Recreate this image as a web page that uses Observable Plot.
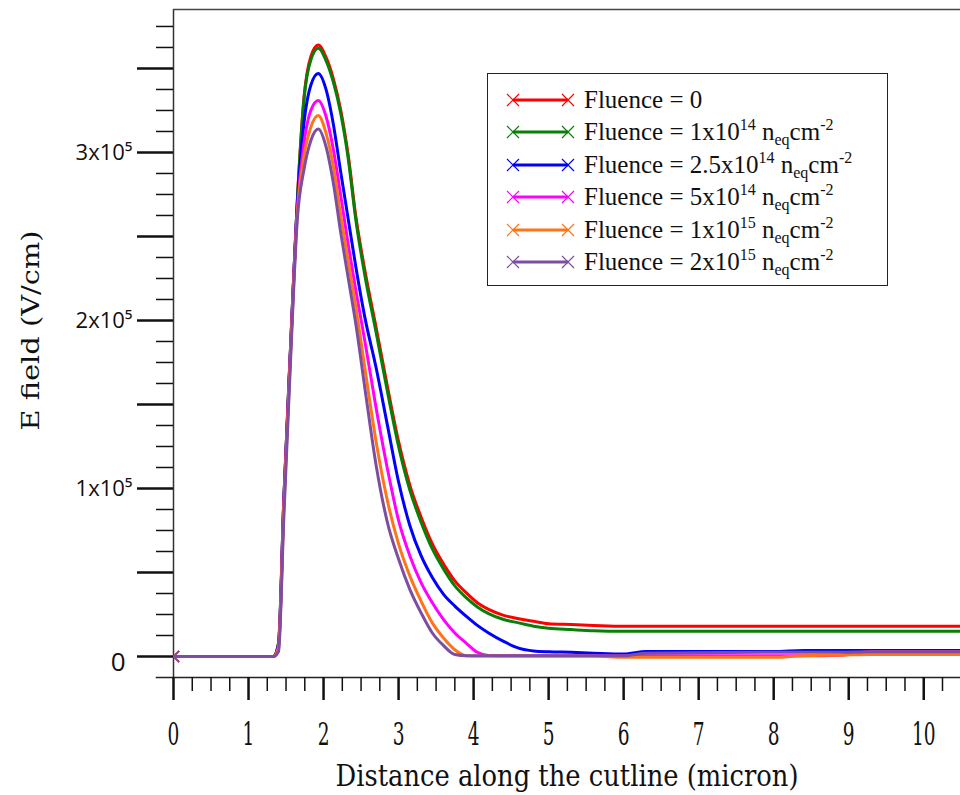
<!DOCTYPE html>
<html>
<head>
<meta charset="utf-8">
<script src="https://cdn.jsdelivr.net/npm/d3@7"></script>
<script src="https://cdn.jsdelivr.net/npm/@observablehq/plot@0.6"></script>
<style>
  body { margin: 0; background: #fff; }
  #wrap { position: relative; width: 960px; height: 795px; overflow: hidden; }
  #legend {
    position: absolute; left: 487px; top: 73px; width: 401px; height: 213px;
    border: 1.5px solid #222; background: #fff; box-sizing: border-box;
    font-family: "Liberation Serif", "Times New Roman", serif; font-size: 25px; color: #111;
  }
  .row { position: absolute; left: 0; height: 30px; white-space: nowrap; }
  .row svg { position: absolute; left: 18px; top: 0; }
  .row span.lbl { position: absolute; left: 96px; top: 0; line-height: 30px; }
  .row sup { font-size: 16px; line-height: 0; vertical-align: 0; position: relative; top: -10px; }
  .row sub { font-size: 16px; line-height: 0; vertical-align: 0; position: relative; top: 5px; }
</style>
</head>
<body>
<div id="wrap"><div id="chart"></div><div id="legend"></div></div>
<script>
// ---------- data (E field in units of 1e5 V/cm) ----------
const xGrid = [0, 1.33, 1.40, 1.47, 1.56, 1.65, 1.74, 1.83, 1.93, 2.03, 2.13, 2.23, 2.33, 2.43, 2.55, 2.7, 2.85, 3.0, 3.15, 3.3, 3.45, 3.6, 3.75, 3.9, 4.05, 4.2, 4.4, 4.6, 4.8, 5.0, 5.3, 5.6, 6.0, 6.3, 7.0, 8.0, 8.4, 8.9, 9.3, 10.0, 10.5];

const eFluence0 = [0, 0, 0.08, 0.93, 1.84, 2.71, 3.33, 3.57, 3.64, 3.57, 3.44, 3.25, 2.98, 2.62, 2.30, 1.96, 1.61, 1.28, 1.02, 0.83, 0.67, 0.55, 0.45, 0.38, 0.32, 0.28, 0.245, 0.225, 0.21, 0.195, 0.19, 0.185, 0.18, 0.18, 0.18, 0.18, 0.18, 0.18, 0.18, 0.18, 0.18];
const eFluence1e14 = [0, 0, 0.08, 0.93, 1.84, 2.71, 3.32, 3.55, 3.62, 3.55, 3.42, 3.23, 2.96, 2.60, 2.27, 1.93, 1.58, 1.25, 0.99, 0.80, 0.64, 0.52, 0.42, 0.35, 0.295, 0.255, 0.22, 0.20, 0.18, 0.168, 0.16, 0.153, 0.15, 0.15, 0.15, 0.15, 0.15, 0.15, 0.15, 0.15, 0.15];
const eFluence25e14 = [0, 0, 0.07, 0.92, 1.83, 2.69, 3.18, 3.40, 3.47, 3.38, 3.17, 2.88, 2.60, 2.32, 2.02, 1.72, 1.38, 1.04, 0.78, 0.60, 0.47, 0.37, 0.30, 0.24, 0.185, 0.14, 0.09, 0.05, 0.033, 0.028, 0.025, 0.02, 0.015, 0.03, 0.03, 0.03, 0.036, 0.036, 0.035, 0.035, 0.035];
const eFluence5e14 = [0, 0, 0.06, 0.90, 1.82, 2.66, 3.06, 3.25, 3.31, 3.22, 3.02, 2.74, 2.45, 2.18, 1.88, 1.48, 1.12, 0.81, 0.60, 0.44, 0.32, 0.22, 0.14, 0.08, 0.025, 0.006, 0.005, 0.005, 0.005, 0.005, 0.005, 0.005, 0.005, 0.005, 0.005, 0.005, 0.005, 0.008, 0.03, 0.03, 0.03];
const eFluence1e15 = [0, 0, 0.05, 0.88, 1.80, 2.63, 2.98, 3.15, 3.22, 3.12, 2.92, 2.62, 2.35, 2.08, 1.72, 1.28, 0.93, 0.67, 0.48, 0.33, 0.20, 0.11, 0.04, 0.005, 0.003, 0.003, 0.003, 0.003, 0.003, 0.003, 0.003, 0.003, -0.005, -0.005, -0.005, -0.005, 0.005, 0.008, 0.012, 0.012, 0.012];
const eFluence2e15 = [0, 0, 0.03, 0.82, 1.76, 2.60, 2.90, 3.07, 3.14, 3.04, 2.82, 2.52, 2.25, 1.98, 1.60, 1.14, 0.80, 0.58, 0.40, 0.26, 0.14, 0.065, 0.012, 0.005, 0.005, 0.005, 0.005, 0.005, 0.005, 0.005, 0.005, 0.005, 0.005, 0.02, 0.022, 0.025, 0.025, 0.025, 0.028, 0.028, 0.028];

const seriesValues = [eFluence0, eFluence1e14, eFluence25e14, eFluence5e14, eFluence1e15, eFluence2e15];
const seriesColors = ["#ff0000", "#088008", "#0000ff", "#ff00ff", "#ff7418", "#7d4ea0"];
const fluenceMantissa = ["0", "1", "2.5", "5", "1", "2"];
const fluenceExponent = [null, "14", "14", "14", "15", "15"];

const xTickValues = [0, 1, 2, 3, 4, 5, 6, 7, 8, 9, 10];
const yLabelTicks = [1, 2, 3];
const yMajorTicks = [0, 0.5, 1, 1.5, 2, 2.5, 3, 3.5];
const xTitle = "Distance along the cutline (micron)";
const yTitle = "E field (V/cm)";

// ---------- chart ----------
const xDomain = [0, 10.49];
const yDomain = [-0.125, 3.851];
const xMinor = d3.range(0, 10.5, 0.25).filter(v => v % 1 !== 0);
const yMinor = d3.range(0.125, 3.8, 0.125).filter(v => Math.abs(v * 2 - Math.round(v * 2)) > 1e-9);

const lineMarks = seriesValues.map((vals, s) => {
  const rows = xGrid.map((x, i) => ({x, e: vals[i]}));
  return [
    Plot.line(rows, {x: "x", y: "e", stroke: seriesColors[s], strokeWidth: 3, curve: "monotone-x", clip: true}),
    Plot.dot(rows.slice(0, 1), {x: "x", y: "e", symbol: "times", r: 5, stroke: seriesColors[s], strokeWidth: 1.6, clip: true})
  ];
});

const chart = Plot.plot({
  width: 960, height: 795,
  marginLeft: 173, marginRight: 0, marginTop: 9, marginBottom: 118,
  x: {domain: xDomain},
  y: {domain: yDomain},
  style: {background: "transparent", color: "#111"},
  marks: [
    Plot.ruleX([xDomain[0]], {stroke: "#333", strokeWidth: 1.5}),
    Plot.ruleY([yDomain[1]], {stroke: "#444", strokeWidth: 1.5}),
    Plot.ruleY([yDomain[0]], {x1: -0.23, x2: xDomain[1], stroke: "#222", strokeWidth: 1.5}),
    Plot.axisY({ticks: yMajorTicks, tickSize: 36, strokeWidth: 2.5, tickFormat: () => "", label: null}),
    Plot.axisY({ticks: yMinor, tickSize: 17, strokeWidth: 1.5, tickFormat: () => "", label: null}),
    Plot.axisY({ticks: yLabelTicks, tickSize: 0, tickPadding: 41, tickFormat: d => `${d}x10⁵`, fontSize: 22, fontFamily: "Open Sans", label: null}),
    Plot.axisY({ticks: [0], tickSize: 0, tickPadding: 48, tickFormat: d => `${d}`, fontSize: 26, dy: 6, fontFamily: "Open Sans", label: null}),
    Plot.axisX({ticks: xTickValues, tickSize: 23, strokeWidth: 2.5, tickFormat: () => "", label: null}),
    Plot.axisX({ticks: xMinor, tickSize: 14, strokeWidth: 1.5, tickFormat: () => "", label: null}),
    Plot.axisX({ticks: xTickValues, tickSize: 0, tickPadding: 45, fontSize: 31, fontFamily: "DejaVu Serif", label: null}),
    Plot.text([xTitle], {frameAnchor: "bottom", dy: 108, fontSize: 30, fontFamily: "DejaVu Serif", fill: "#111"}),
    Plot.text([yTitle], {frameAnchor: "left", textAnchor: "middle", rotate: -90, dx: -143, dy: -13, fontSize: 25, fontFamily: "DejaVu Serif", fill: "#111"}),
    ...lineMarks.flat()
  ]
});
document.getElementById("chart").appendChild(chart);

// condensed look of the axis texts
const svg = d3.select(chart);
svg.selectAll('g[aria-label="x-axis tick label"] text').each(function() {
  const t = d3.select(this);
  t.attr("transform", (t.attr("transform") || "") + " scale(0.6,1)");
});
svg.selectAll("text").filter(function() { return this.textContent === xTitle; })
  .attr("textLength", 463).attr("lengthAdjust", "spacingAndGlyphs");
svg.selectAll("text").filter(function() { return this.textContent === yTitle; })
  .attr("textLength", 200).attr("lengthAdjust", "spacingAndGlyphs");

// ---------- legend ----------
const legend = d3.select("#legend");
seriesColors.forEach((c, i) => {
  const row = legend.append("div").attr("class", "row").style("top", `${11 + i * 32.4}px`);
  const s = row.append("svg").attr("width", 70).attr("height", 30);
  s.append("line").attr("x1", 7).attr("x2", 62).attr("y1", 15).attr("y2", 15).attr("stroke", c).attr("stroke-width", 3);
  [7, 62].forEach(cx => {
    s.append("path").attr("d", `M${cx - 6},${9}L${cx + 6},${21}M${cx - 6},${21}L${cx + 6},${9}`).attr("stroke", c).attr("stroke-width", 1.2).attr("fill", "none");
  });
  const lbl = row.append("span").attr("class", "lbl");
  if (fluenceExponent[i] === null) {
    lbl.text(`Fluence = ${fluenceMantissa[i]}`);
  } else {
    lbl.html(`Fluence = ${fluenceMantissa[i]}x10<sup>${fluenceExponent[i]}</sup> n<sub>eq</sub>cm<sup>-2</sup>`);
  }
});
</script>
</body>
</html>
